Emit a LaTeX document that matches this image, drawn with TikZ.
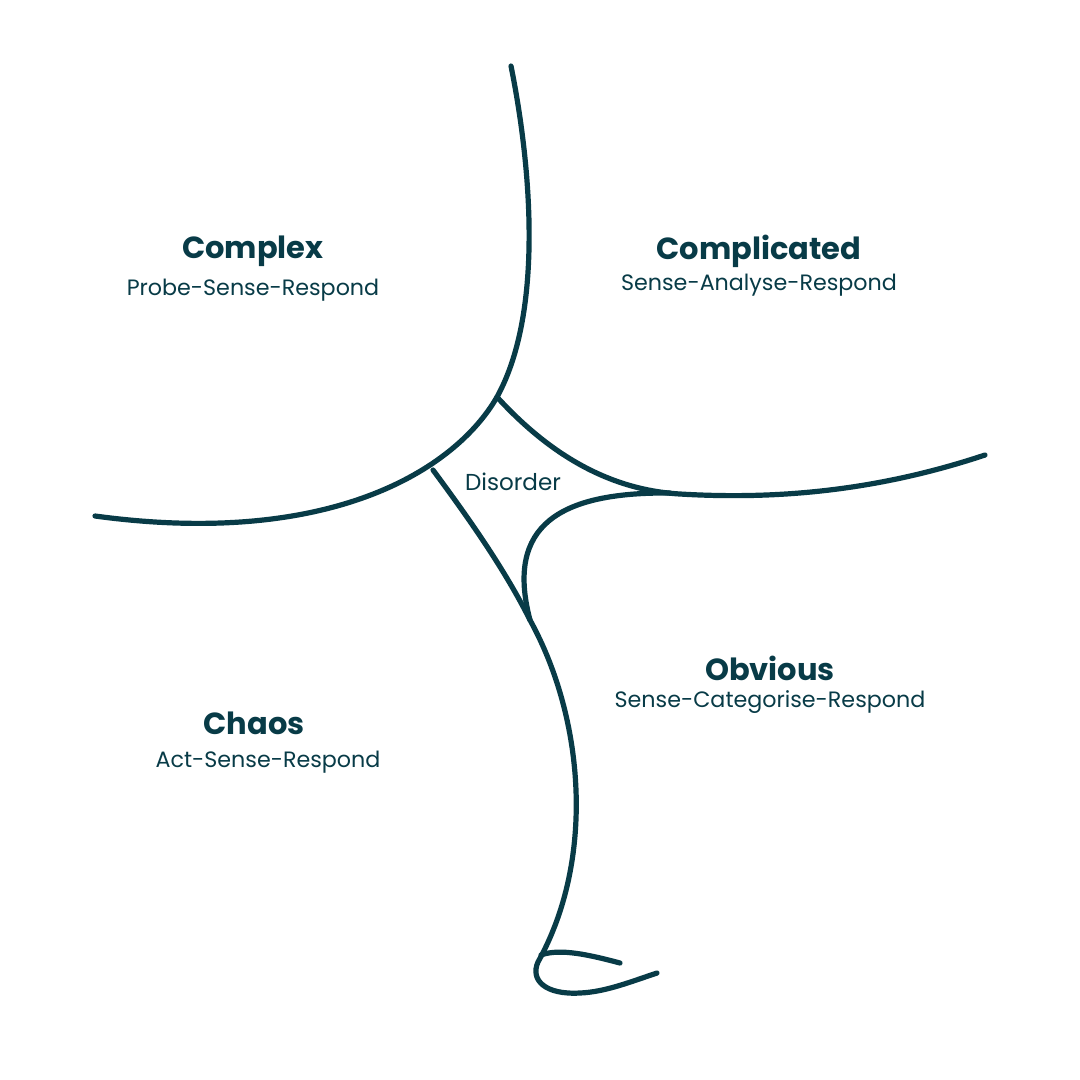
\documentclass[tikz,border=0pt]{standalone}
\usepackage{fontspec}
\setmainfont{Poppins}
\newfontfamily\titlefont{Poppins}
\definecolor{ink}{HTML}{083B47}
\begin{document}
\begin{tikzpicture}[x=0.025cm,y=-0.025cm,
  curve/.style={draw=ink,line width=3.7pt,line cap=round},
  title/.style={text=ink,font=\titlefont\bfseries\fontsize{21.7}{25}\selectfont,inner sep=0pt},
  sub/.style={text=ink,font=\fontsize{15.8}{19}\selectfont,inner sep=0pt},
  lab/.style={text=ink,font=\fontsize{16.4}{19}\selectfont,inner sep=0pt}]
\useasboundingbox[fill=white] (0,0) rectangle (1080,1080);
\coordinate (topend) at (511,66);
\coordinate (j1) at (497,397);
\coordinate (j2) at (433,470);
\coordinate (leftend) at (95,516);
\coordinate (j3) at (670,493);
\coordinate (rightend) at (985,455);
\coordinate (j4) at (530,620);
\coordinate (low) at (538,962);
\coordinate (loopend) at (657,973);
\coordinate (tick1) at (541,955);
\coordinate (tick2) at (620,963);
% top / left boundary
\draw[curve] (topend) .. controls (530,160) and (545,310) .. (j1)
  .. controls (455,470) and (330,548) .. (leftend);
% right boundary
\draw[curve] (j1) .. controls (550,455) and (610,490) .. (680,494)
  .. controls (780,500) and (880,490) .. (rightend);
% obvious boundary and lower curve
\draw[curve] (j3) .. controls (560,492) and (505,525) .. (j4)
  .. controls (585,720) and (595,860) .. (low)
  .. controls (530,980) and (545,995) .. (580,993)
  .. controls (605,992) and (630,982) .. (loopend);
\draw[curve] (j2) .. controls (470,520) and (505,570) .. (j4);
\draw[curve] (tick1) .. controls (560,948) and (590,955) .. (tick2);
% labels
\node[title] (complex) at (253,251) {Complex};
\node[sub] (complexs) at (253,290) {Probe-Sense-Respond};
\node[title] (complicated) at (759,251) {Complicated};
\node[sub] (complicateds) at (759,285) {Sense-Analyse-Respond};
\node[title] (obvious) at (770,668) {Obvious};
\node[sub] (obviouss) at (770,702) {Sense-Categorise-Respond};
\node[title] (chaos) at (254,723) {Chaos};
\node[sub] (chaoss) at (268,762) {Act-Sense-Respond};
\node[lab] (disorder) at (513,482) {Disorder};
\end{tikzpicture}
\end{document}
